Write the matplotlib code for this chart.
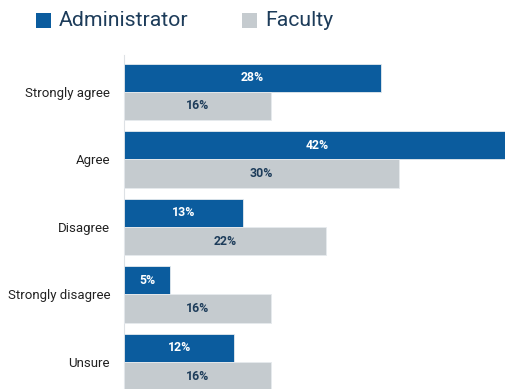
import matplotlib
matplotlib.use("Agg")
import matplotlib.pyplot as plt
from matplotlib.patches import Rectangle

# Survey responses, percent of each group
categorias = ["Strongly agree", "Agree", "Disagree", "Strongly disagree", "Unsure"]
administrador = [28, 42, 13, 5, 12]
profesorado = [16, 30, 22, 16, 16]

AZUL = "#0B5C9E"
GRIS = "#C5CBCF"
TEXTO = "#1D3C5A"

plt.rcParams["font.family"] = ["Roboto", "DejaVu Sans"]

fig = plt.figure(figsize=(5.06, 3.89), dpi=100)
fig.patch.set_facecolor("white")

# axes start at the first bar column and run to the right edge
ax = fig.add_axes([124 / 506, 0, 1 - 124 / 506, (389 - 55) / 389])

alto = 0.415
y = list(range(len(categorias)))
ax.barh([v - alto / 2 for v in y], administrador, height=alto, color=AZUL,
        edgecolor="#E6EAEE", linewidth=0.6, zorder=3)
ax.barh([v + alto / 2 for v in y], profesorado, height=alto, color=GRIS,
        edgecolor="#E6EAEE", linewidth=0.6, zorder=3)

for i in y:
    ax.text(administrador[i] / 2, i - alto / 2, f"{administrador[i]}%",
            ha="center", va="center", color="white", fontsize=8.8,
            fontweight="bold", zorder=4)
    ax.text(profesorado[i] / 2, i + alto / 2, f"{profesorado[i]}%",
            ha="center", va="center", color=TEXTO, fontsize=8.8,
            fontweight="bold", zorder=4)

ax.set_xlim(0, (506 - 124) / 9.18)
ax.set_ylim(4.4, -0.548)
ax.set_yticks(y)
ax.set_yticklabels(categorias, fontsize=9.5, color="#222222")
ax.tick_params(axis="y", length=0, pad=10)
ax.set_xticks([])
for sp in ["top", "right", "bottom"]:
    ax.spines[sp].set_visible(False)
ax.spines["left"].set_color("#DDE1E5")
ax.spines["left"].set_linewidth(0.8)

# legend drawn as squares + text across the top
def _leyenda(x_px, color, texto):
    fig.patches.append(Rectangle((x_px / 506, 1 - 28 / 389), 15 / 506, 15 / 389,
                                 transform=fig.transFigure, facecolor=color,
                                 edgecolor="none"))
    fig.text((x_px + 23) / 506, 1 - 21 / 389, texto, fontsize=15.3,
             color=TEXTO, va="center", ha="left")

_leyenda(36, AZUL, "Administrator")
_leyenda(242, GRIS, "Faculty")

fig.savefig("out.png", dpi=100, facecolor="white")
